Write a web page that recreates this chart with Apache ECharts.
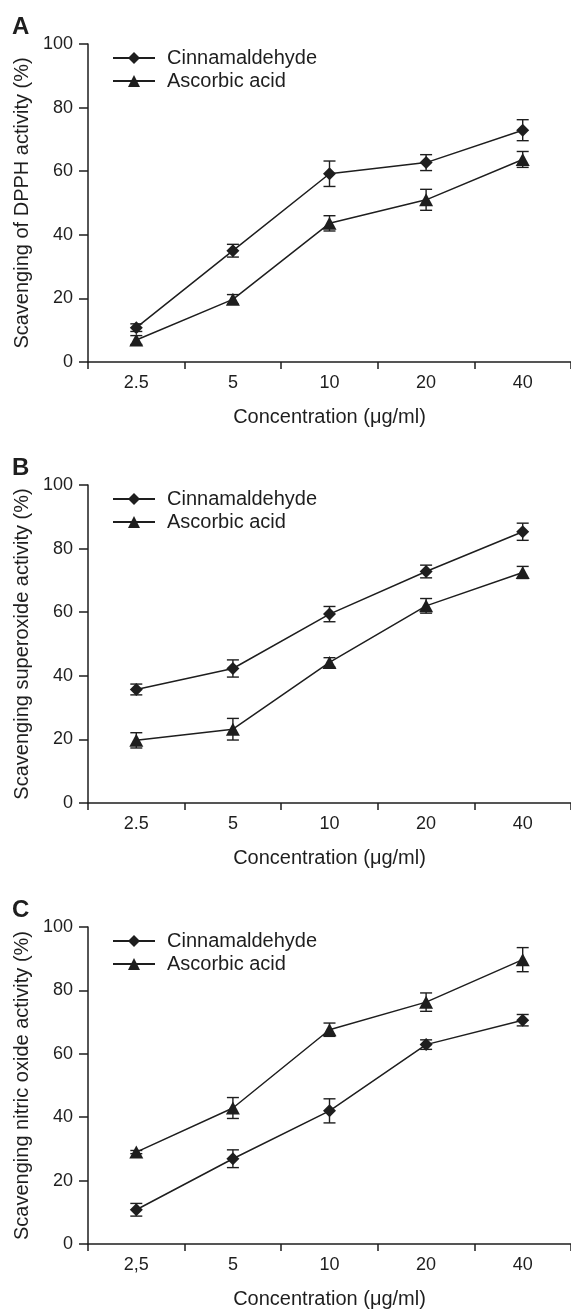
<!DOCTYPE html>
<html><head><meta charset="utf-8">
<script src="https://cdn.jsdelivr.net/npm/echarts@6/dist/echarts.min.js"></script>
<style>html,body{margin:0;padding:0;background:#fff}#c{width:571px;height:1310px}</style>
</head><body><div id="c"></div>
<script>
// ---- data ----
const categoriesAB = ['2.5', '5', '10', '20', '40'];
const categoriesC = ['2,5', '5', '10', '20', '40'];
const panelLabels = ['A', 'B', 'C'];
const yTitles = ['Scavenging of DPPH activity (%)', 'Scavenging superoxide activity (%)', 'Scavenging nitric oxide activity (%)'];
const xTitle = 'Concentration (\u03bcg/ml)';
const seriesNames = ['Cinnamaldehyde', 'Ascorbic acid'];

const dpphCinn = [10.8, 35.0, 59.2, 62.7, 72.9];
const dpphCinnErr = [1.2, 2.0, 4.0, 2.5, 3.3];
const dpphAsc = [6.9, 19.7, 43.6, 51.0, 63.7];
const dpphAscErr = [1.4, 1.5, 2.4, 3.3, 2.5];

const supCinn = [35.7, 42.3, 59.4, 72.8, 85.3];
const supCinnErr = [1.7, 2.7, 2.4, 2.0, 2.7];
const supAsc = [19.7, 23.2, 44.2, 62.0, 72.5];
const supAscErr = [2.4, 3.4, 1.5, 2.3, 1.9];

const noCinn = [10.8, 26.9, 42.0, 62.9, 70.6];
const noCinnErr = [2.0, 2.8, 3.8, 1.5, 1.8];
const noAsc = [29.0, 42.9, 67.6, 76.3, 89.7];
const noAscErr = [0.5, 3.3, 2.1, 2.9, 3.8];

const yMin = 0, yMax = 100, yInterval = 20;

// ---- layout ----
const FONT = 'Liberation Sans';
const INK = '#1e1e1e';
const gridTops = [44, 485, 927];
const gridH = 318;

const panels = [
  { cats: categoriesAB, cinn: dpphCinn, cinnErr: dpphCinnErr, asc: dpphAsc, ascErr: dpphAscErr },
  { cats: categoriesAB, cinn: supCinn, cinnErr: supCinnErr, asc: supAsc, ascErr: supAscErr },
  { cats: categoriesC, cinn: noCinn, cinnErr: noCinnErr, asc: noAsc, ascErr: noAscErr }
];

function errData(vals, errs) {
  return vals.map((v, i) => [i, v - errs[i], v + errs[i]]);
}
function errRender(params, api) {
  const x = api.value(0), lo = api.value(1), hi = api.value(2);
  const p1 = api.coord([x, hi]);
  const p2 = api.coord([x, lo]);
  const w = 6;
  const st = { stroke: INK, lineWidth: 1.4 };
  return {
    type: 'group', children: [
      { type: 'line', shape: { x1: p1[0], y1: p1[1], x2: p2[0], y2: p2[1] }, style: st },
      { type: 'line', shape: { x1: p1[0] - w, y1: p1[1], x2: p1[0] + w, y2: p1[1] }, style: st },
      { type: 'line', shape: { x1: p2[0] - w, y1: p2[1], x2: p2[0] + w, y2: p2[1] }, style: st }
    ]
  };
}

const grid = [], xAxis = [], yAxis = [], series = [], legend = [], graphic = [];
panels.forEach((p, k) => {
  grid.push({ left: 88, right: 0, top: gridTops[k], height: gridH });
  xAxis.push({
    type: 'category', gridIndex: k, data: p.cats, boundaryGap: true,
    name: xTitle, nameLocation: 'middle', nameGap: 45,
    nameTextStyle: { fontFamily: FONT, fontSize: 20, color: INK },
    axisLine: { show: true, lineStyle: { color: INK, width: 1.5 } },
    axisTick: { show: true, length: 7, alignWithLabel: false, lineStyle: { color: INK, width: 1.5 } },
    axisLabel: { fontFamily: FONT, fontSize: 18, color: INK, margin: 12 },
    splitLine: { show: false }
  });
  yAxis.push({
    type: 'value', gridIndex: k, min: yMin, max: yMax, interval: yInterval,
    name: yTitles[k], nameLocation: 'middle', nameGap: 56, nameRotate: 90,
    nameTextStyle: { fontFamily: FONT, fontSize: 20, color: INK },
    axisLine: { show: true, lineStyle: { color: INK, width: 1.5 } },
    axisTick: { show: true, length: 9, lineStyle: { color: INK, width: 1.5 } },
    axisLabel: { fontFamily: FONT, fontSize: 18, color: INK, margin: 15 },
    splitLine: { show: false }
  });
  series.push({
    type: 'custom', name: 'errC' + k, xAxisIndex: k, yAxisIndex: k,
    renderItem: errRender, data: errData(p.cinn, p.cinnErr), encode: { x: 0, y: [1, 2] }, z: 1
  });
  series.push({
    type: 'custom', name: 'errA' + k, xAxisIndex: k, yAxisIndex: k,
    renderItem: errRender, data: errData(p.asc, p.ascErr), encode: { x: 0, y: [1, 2] }, z: 1
  });
  series.push({
    type: 'line', name: seriesNames[0], xAxisIndex: k, yAxisIndex: k, data: p.cinn,
    symbol: 'diamond', symbolSize: [13, 13],
    lineStyle: { color: INK, width: 1.5 }, itemStyle: { color: INK }, z: 3
  });
  series.push({
    type: 'line', name: seriesNames[1], xAxisIndex: k, yAxisIndex: k, data: p.asc,
    symbol: 'triangle', symbolSize: [14, 13],
    lineStyle: { color: INK, width: 1.5 }, itemStyle: { color: INK }, z: 3
  });
  legend.push({
    data: seriesNames, orient: 'vertical', left: 112, top: gridTops[k] + 4, padding: 0,
    itemWidth: 42, itemHeight: 15, itemGap: 3, selectedMode: false,
    textStyle: { fontFamily: FONT, fontSize: 20, color: INK, padding: [0, 0, 0, 7] }
  });
  graphic.push({
    type: 'text', left: 12, top: gridTops[k] - 29,
    style: { text: panelLabels[k], fontFamily: FONT, fontSize: 24, fontWeight: 'bold', fill: INK }
  });
});

const chart = echarts.init(document.getElementById('c'), null, { renderer: 'canvas' });
chart.setOption({
  animation: false,
  backgroundColor: '#fff',
  textStyle: { fontFamily: FONT },
  grid, xAxis, yAxis, series, legend, graphic
});
</script>
</body></html>
